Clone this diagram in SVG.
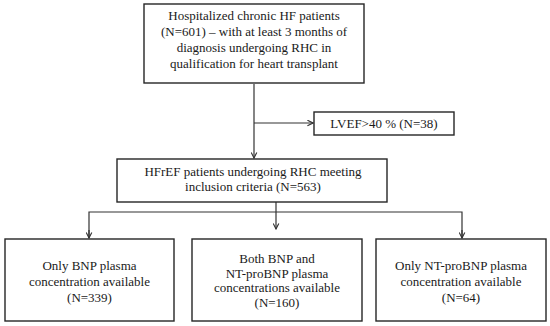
<svg xmlns="http://www.w3.org/2000/svg" width="550" height="326" viewBox="0 0 550 326">
<style>
.box{fill:#fff;stroke:#262626;stroke-width:1.4}
.t{font-family:"Liberation Serif","Times New Roman",serif;font-size:13px;fill:#1a1a1a;text-anchor:middle}
.c{fill:none;stroke:#333;stroke-width:1.2}
</style>
<defs>
<marker id="ah" viewBox="0 0 10 10" refX="9" refY="5" markerWidth="7" markerHeight="7" markerUnits="userSpaceOnUse" orient="auto">
<path d="M1,1 L9,5 L1,9" fill="none" stroke="#333" stroke-width="1.6"/>
</marker>
</defs>
<rect width="550" height="326" fill="#fff"/>
<g id="connectors">
<line class="c" x1="254" y1="84" x2="254" y2="158" marker-end="url(#ah)"/>
<line class="c" x1="254" y1="123" x2="313" y2="123" marker-end="url(#ah)"/>
<line class="c" x1="276" y1="202" x2="276" y2="229" marker-end="url(#ah)"/>
<polyline class="c" points="89,238 89,212 462,212 462,238"/>
<line class="c" x1="89" y1="230" x2="89" y2="238" marker-end="url(#ah)"/>
<line class="c" x1="462" y1="230" x2="462" y2="238" marker-end="url(#ah)"/>
</g>
<g id="n1">
<rect class="box" x="144" y="4" width="220" height="79"/>
<text class="t" x="254" y="20">Hospitalized chronic HF patients</text>
<text class="t" x="254" y="36">(N=601) – with at least 3 months of</text>
<text class="t" x="254" y="52">diagnosis undergoing RHC in</text>
<text class="t" x="254" y="68">qualification for heart transplant</text>
</g>
<g id="n2">
<rect class="box" x="314" y="112" width="140" height="23"/>
<text class="t" x="384" y="128">LVEF&gt;40 % (N=38)</text>
</g>
<g id="n3">
<rect class="box" x="117" y="159" width="270" height="43"/>
<text class="t" x="253" y="176">HFrEF patients undergoing RHC meeting</text>
<text class="t" x="253" y="191">inclusion criteria (N=563)</text>
</g>
<g id="n4">
<rect class="box" x="5" y="239" width="169" height="82"/>
<text class="t" x="89.5" y="270">Only BNP plasma</text>
<text class="t" x="89.5" y="286">concentration available</text>
<text class="t" x="89.5" y="302">(N=339)</text>
</g>
<g id="n5">
<rect class="box" x="192" y="239" width="170" height="82"/>
<text class="t" x="277" y="263">Both BNP and</text>
<text class="t" x="277" y="277.5">NT-proBNP plasma</text>
<text class="t" x="277" y="292">concentrations available</text>
<text class="t" x="277" y="306.5">(N=160)</text>
</g>
<g id="n6">
<rect class="box" x="376" y="239" width="170" height="82"/>
<text class="t" x="461" y="270">Only NT-proBNP plasma</text>
<text class="t" x="461" y="286">concentration available</text>
<text class="t" x="461" y="302">(N=64)</text>
</g>
</svg>
